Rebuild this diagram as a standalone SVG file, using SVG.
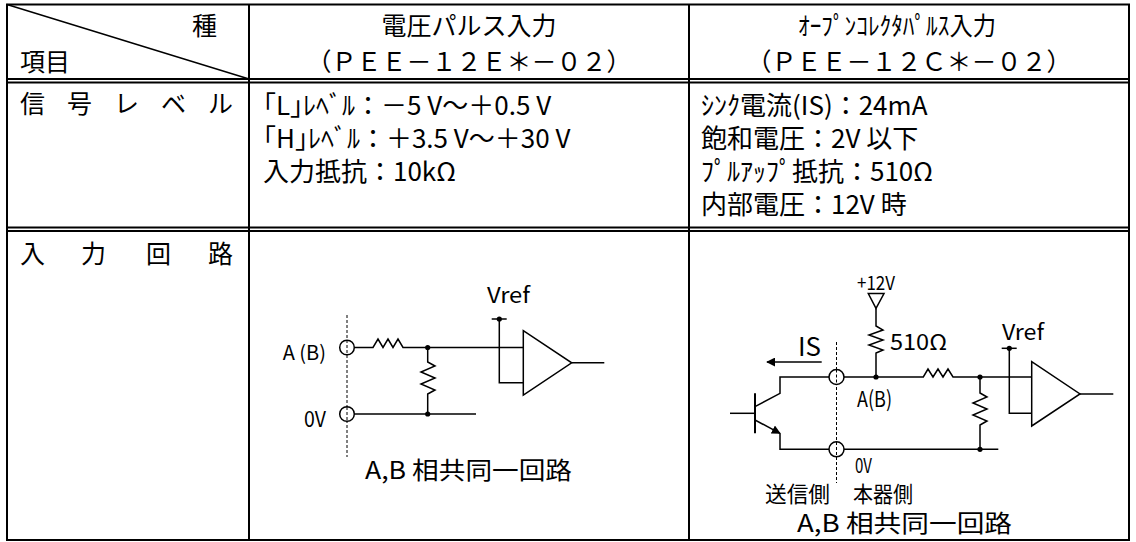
<svg xmlns="http://www.w3.org/2000/svg" width="1136" height="542" viewBox="0 0 1136 542">
<style>
.b{stroke:#000;stroke-width:2;fill:none}
.d{stroke:#000;stroke-width:1.8;fill:none}
.w{stroke:#000;stroke-width:1.5;fill:none}
.dash{stroke:#000;stroke-width:1;stroke-dasharray:3,2;fill:none}
.dot{fill:#000;stroke:none}
.ring{fill:#fff;stroke:#000;stroke-width:1.5}
.t{font-family:"Noto Sans CJK JP","Noto Sans CJK SC",sans-serif;fill:#000}
.h{font-size:25px}
.m{font-size:26px}
.f{font-size:24px}
.c{font-size:22px}
.s{font-size:20px}
</style>
<defs>
<marker id="ah" viewBox="0 0 10 10" refX="9" refY="5" markerWidth="9" markerHeight="9" markerUnits="userSpaceOnUse" orient="auto">
<path d="M0,0 L10,5 L0,10 z" fill="#000"/>
</marker>
</defs>
<rect width="1136" height="542" fill="#fff"/>
<g id="table">
<rect class="b" x="7" y="4.5" width="1122" height="535.5"/>
<line class="b" x1="249" y1="4.5" x2="249" y2="540"/>
<line class="b" x1="689" y1="4.5" x2="689" y2="540"/>
<line class="d" x1="7" y1="79" x2="1129" y2="79"/>
<line class="d" x1="7" y1="82.5" x2="1129" y2="82.5"/>
<line class="d" x1="7" y1="227.5" x2="1129" y2="227.5"/>
<line class="d" x1="7" y1="231" x2="1129" y2="231"/>
<line class="w" x1="7" y1="4.5" x2="249" y2="79"/>
</g>
<g id="header">
<text class="t h" x="217" y="35" text-anchor="end">種</text>
<text class="t h" x="20" y="71">項目</text>
<text class="t h" x="469" y="35" text-anchor="middle">電圧パルス入力</text>
<text class="t h" x="469" y="71" text-anchor="middle">（ＰＥＥ－１２Ｅ＊－０２）</text>
<text class="t h" x="897" y="35" text-anchor="middle" textLength="198" lengthAdjust="spacingAndGlyphs">ｵｰﾌﾟﾝｺﾚｸﾀﾊﾟﾙｽ入力</text>
<text class="t h" x="909" y="71" text-anchor="middle">（ＰＥＥ－１２Ｃ＊－０２）</text>
</g>
<g id="signal-level">
<text class="t h" x="20 67 114 161 208" y="113">信号レベル</text>
<text class="t m" x="263" y="115">｢L｣ﾚﾍﾞﾙ：－5 V～＋0.5 V</text>
<text class="t m" x="263" y="148">｢H｣ﾚﾍﾞﾙ：＋3.5 V～＋30 V</text>
<text class="t m" x="263" y="181">入力抵抗：10kΩ</text>
<text class="t m" x="701" y="115">ｼﾝｸ電流(IS)：24mA</text>
<text class="t m" x="701" y="148">飽和電圧：2V 以下</text>
<text class="t m" x="701" y="181">ﾌﾟﾙｱｯﾌﾟ抵抗：510Ω</text>
<text class="t m" x="701" y="214">内部電圧：12V 時</text>
</g>
<g id="input-circuit-label">
<text class="t h" x="20 81 146 208" y="263">入力回路</text>
</g>
<g id="circuit-voltage">
<g id="connectors-left">
<line class="dash" x1="347" y1="315" x2="347" y2="457"/>
<polyline class="w" points="354.5,347.5 373,347.5 378,339 383,347.5 388,339 393,347.5 398,339 403,347.5 523.3,347.5"/>
<polyline class="w" points="427.7,347.5 427.7,362 435,366 421,372 435,378 421,384 435,390 427.7,394 427.7,414"/>
<line class="w" x1="354.5" y1="414" x2="476" y2="414"/>
<line class="w" x1="491.7" y1="319" x2="506.7" y2="319"/>
<polyline class="w" points="499.3,319 499.3,382.7 523.3,382.7"/>
<line class="w" x1="571.7" y1="362.8" x2="604.3" y2="362.8"/>
</g>
<g id="terminal-ab-left"><circle class="ring" cx="347" cy="347.5" r="7.3"/><line class="dash" x1="347" y1="340" x2="347" y2="355"/></g>
<g id="terminal-0v-left"><circle class="ring" cx="347" cy="414" r="7.3"/><line class="dash" x1="347" y1="407" x2="347" y2="421"/></g>
<circle class="dot" cx="427.7" cy="347.5" r="2.6"/>
<circle class="dot" cx="427.7" cy="414" r="2.6"/>
<circle class="dot" cx="499.3" cy="319" r="2.6"/>
<g id="comparator-left"><polygon class="w" points="523.3,330.7 523.3,395 571.7,362.8"/></g>
<text class="t s" x="326" y="360" text-anchor="end">A (B)</text>
<text class="t c" x="326" y="427" text-anchor="end" textLength="22" lengthAdjust="spacingAndGlyphs">0V</text>
<text class="t c" x="487" y="303" textLength="43" lengthAdjust="spacingAndGlyphs">Vref</text>
<text class="t f" x="365" y="479" textLength="207" lengthAdjust="spacingAndGlyphs">A,B 相共同一回路</text>
</g>
<g id="circuit-oc">
<g id="connectors-right">
<line class="dash" x1="836.5" y1="342" x2="836.5" y2="483"/>
<polygon class="w" points="868.3,293.5 884,293.5 876,308.3"/>
<polyline class="w" points="876,308.3 876,326 883,330 869,335 883,340 869,345 883,350 876,353 876,377"/>
<polyline class="w" points="844,377 923.3,377 928,369 933,377 938,369 943,377 948,369 953,377 956.7,377 1031.7,377"/>
<polyline class="w" points="980,377 980,393 987,397 973,403 987,409 973,415 987,421 980,425 980,449.3"/>
<line class="w" x1="844" y1="449.3" x2="998.3" y2="449.3"/>
<line class="w" x1="1001.7" y1="348.3" x2="1016.7" y2="348.3"/>
<polyline class="w" points="1009.3,348.3 1009.3,413.3 1031.7,413.3"/>
<line class="w" x1="1080" y1="394" x2="1113.3" y2="394"/>
<line class="w" x1="821.7" y1="362" x2="767" y2="362" marker-end="url(#ah)"/>
<polyline class="w" points="829,377 780,377 780,393.3 755,406.7"/>
<line class="w" x1="730" y1="413.3" x2="755" y2="413.3"/>
<line class="w" x1="755" y1="420" x2="780" y2="433.3" marker-end="url(#ah)"/>
<polyline class="w" points="780,433.3 780,449.3 829,449.3"/>
</g>
<g id="transistor"><line class="b" x1="755" y1="393.3" x2="755" y2="433.3"/></g>
<g id="terminal-ab-right"><circle class="ring" cx="836.5" cy="377" r="7.5"/><line class="dash" x1="836.5" y1="369.5" x2="836.5" y2="384.5"/></g>
<g id="terminal-0v-right"><circle class="ring" cx="836.5" cy="449.3" r="7.5"/><line class="dash" x1="836.5" y1="442" x2="836.5" y2="457"/></g>
<circle class="dot" cx="876" cy="377" r="2.6"/>
<circle class="dot" cx="980" cy="377" r="2.6"/>
<circle class="dot" cx="980" cy="449.3" r="2.6"/>
<circle class="dot" cx="1009.3" cy="348.3" r="2.6"/>
<g id="comparator-right"><polygon class="w" points="1031.7,361.7 1031.7,426 1080,394"/></g>
<text class="t" font-size="19" x="857" y="290" textLength="38" lengthAdjust="spacingAndGlyphs">+12V</text>
<text class="t c" x="890" y="350" textLength="57" lengthAdjust="spacingAndGlyphs">510Ω</text>
<text class="t m" x="798" y="356" textLength="23" lengthAdjust="spacingAndGlyphs">IS</text>
<text class="t c" x="1002" y="340" textLength="42" lengthAdjust="spacingAndGlyphs">Vref</text>
<text class="t c" x="857" y="407" textLength="35" lengthAdjust="spacingAndGlyphs">A(B)</text>
<text class="t s" x="855" y="473" textLength="17" lengthAdjust="spacingAndGlyphs">0V</text>
<text class="t c" x="765" y="502" textLength="65" lengthAdjust="spacingAndGlyphs">送信側</text>
<text class="t c" x="853" y="502" textLength="60" lengthAdjust="spacingAndGlyphs">本器側</text>
<text class="t f" x="797" y="532" textLength="215" lengthAdjust="spacingAndGlyphs">A,B 相共同一回路</text>
</g>
</svg>
